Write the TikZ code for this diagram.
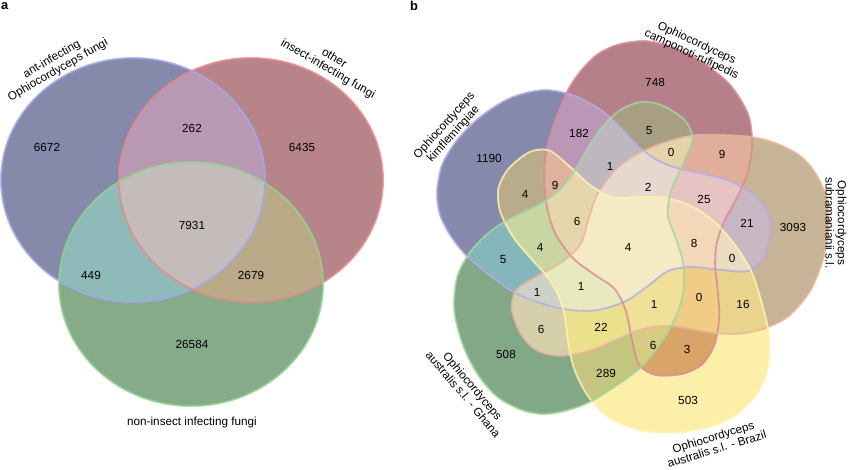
\documentclass[tikz,border=0pt]{standalone}
\usepackage{fontspec}
\setmainfont{Liberation Sans}
\usepackage{tikz}
% panel a colours
\definecolor{vA}{HTML}{8589AA}
\definecolor{vO}{HTML}{B78589}
\definecolor{vN}{HTML}{87AA88}
\definecolor{vAO}{HTML}{B898B2}
\definecolor{vAN}{HTML}{8EBAB9}
\definecolor{vON}{HTML}{BBAA88}
\definecolor{vAON}{HTML}{C4BCBA}
\definecolor{eA}{HTML}{A3A8EE}
\definecolor{eO}{HTML}{E8898C}
\definecolor{eN}{HTML}{8FD48F}
% panel b colours
\definecolor{vK}{HTML}{8589AB}
\definecolor{vC}{HTML}{B5808A}
\definecolor{vS}{HTML}{C7B497}
\definecolor{vB}{HTML}{FCF0A8}
\definecolor{vG}{HTML}{82A887}
\definecolor{vKC}{HTML}{BC96B6}
\definecolor{vCS}{HTML}{E0AE9A}
\definecolor{vSB}{HTML}{E8D48C}
\definecolor{vBG}{HTML}{C4C57F}
\definecolor{vGK}{HTML}{84B6BB}
\definecolor{vCG}{HTML}{A89E83}
\definecolor{vSK}{HTML}{C8B7C3}
\definecolor{vBC}{HTML}{D9A468}
\definecolor{vGS}{HTML}{D5CFAA}
\definecolor{vKB}{HTML}{B8AC8A}
\definecolor{vKCB}{HTML}{DDB39E}
\definecolor{vCSG}{HTML}{E6D3A9}
\definecolor{vSBK}{HTML}{EBDCC0}
\definecolor{vBGC}{HTML}{D8CB82}
\definecolor{vGKS}{HTML}{CCD2C6}
\definecolor{vKCG}{HTML}{BEB8BE}
\definecolor{vCSK}{HTML}{E8C3C3}
\definecolor{vSBC}{HTML}{F0CC86}
\definecolor{vBGS}{HTML}{EBE08C}
\definecolor{vGKB}{HTML}{C9D6A2}
\definecolor{vnoB}{HTML}{E6D8CF}
\definecolor{vnoG}{HTML}{F2D8B8}
\definecolor{vnoK}{HTML}{F0E098}
\definecolor{vnoC}{HTML}{E9E9BF}
\definecolor{vnoS}{HTML}{E6D6AC}
\definecolor{vall}{HTML}{F4EAC4}
\definecolor{eK}{HTML}{B3ADE6}
\definecolor{eC}{HTML}{D98A94}
\definecolor{eS}{HTML}{EBB49B}
\definecolor{eB}{HTML}{FFF3B0}
\definecolor{eG}{HTML}{9FD89F}

\newcommand\circpath{(0,0) ellipse [x radius=132, y radius=122]}
\newcommand\blob{plot[smooth cycle, tension=0.5] coordinates {(470,259) (452,238)
  (440,215) (437,192) (442,165) (457,140) (480,117) (510,98) (543,90) (572,95)
  (598,108) (619,126) (638,146) (657,160) (677,168) (700,173) (727,180) (752,193)
  (767,211) (770,233) (763,258) (748,271) (722,270) (692,267) (668,271) (648,286)
  (626,301) (598,310) (570,310) (540,303) (510,290)}}
\newcommand\clipone[2]{\clip[set #1] #2;}
\makeatletter
% fill the part common to all sets in #2
\newcommand\vennregion[3]{%
  \begin{scope}
    \@for\vset:=#2\do{\expandafter\clipone\expandafter{\vset}{#1}}
    \fill[#3] (0,0) rectangle (850,469);
  \end{scope}}
\makeatother

\begin{document}
\begin{tikzpicture}[x=0.03cm, y=-0.03cm, font=\fontsize{10}{10.5}\selectfont,
    set A/.style={shift={(133,180)}},
    set O/.style={shift={(251,180)}},
    set N/.style={shift={(191,284)}},
    set K/.style={},
    set C/.style={rotate around={-72:(629,243)}},
    set S/.style={rotate around={-144:(629,243)}},
    set B/.style={rotate around={144:(629,243)}},
    set G/.style={rotate around={72:(629,243)}},
    rim/.style={line width=1.6pt, draw opacity=0.8},
    panel/.style={anchor=north west, inner sep=0, font=\fontsize{11}{12}\selectfont\bfseries}]
  \useasboundingbox (0,0) rectangle (850,469);

  % a
  \vennregion{\circpath}{A}{vA}
  \vennregion{\circpath}{O}{vO}
  \vennregion{\circpath}{N}{vN}
  \vennregion{\circpath}{A,O}{vAO}
  \vennregion{\circpath}{A,N}{vAN}
  \vennregion{\circpath}{O,N}{vON}
  \vennregion{\circpath}{A,O,N}{vAON}
  \draw[set A, rim, eA] \circpath;
  \draw[set O, rim, eO] \circpath;
  \draw[set N, rim, eN] \circpath;

  \node[panel] (lbla) at (1,2) {a};
  \node[rotate=30, align=center] (antlbl) at (55,65) {ant-infecting\\Ophiocordyceps fungi};
  \node[rotate=-30, align=center] (othlbl) at (331,64) {other\\insect-infecting fungi};
  \node (nonlbl) at (192,422) {non-insect infecting fungi};
  \foreach \p/\t [count=\i] in {(47,147)/6672, (192,128)/262, (302,147)/6435,
      (192,225)/7931, (91,275)/449, (251,275)/2679, (192,344)/26584}
    \node (a\i) at \p {\t};

  % b
  \vennregion{\blob}{K}{vK}
  \vennregion{\blob}{C}{vC}
  \vennregion{\blob}{S}{vS}
  \vennregion{\blob}{B}{vB}
  \vennregion{\blob}{G}{vG}
  \vennregion{\blob}{K,C}{vKC}
  \vennregion{\blob}{C,S}{vCS}
  \vennregion{\blob}{S,B}{vSB}
  \vennregion{\blob}{B,G}{vBG}
  \vennregion{\blob}{G,K}{vGK}
  \vennregion{\blob}{C,G}{vCG}
  \vennregion{\blob}{S,K}{vSK}
  \vennregion{\blob}{B,C}{vBC}
  \vennregion{\blob}{G,S}{vGS}
  \vennregion{\blob}{K,B}{vKB}
  \vennregion{\blob}{K,C,B}{vKCB}
  \vennregion{\blob}{C,S,G}{vCSG}
  \vennregion{\blob}{S,B,K}{vSBK}
  \vennregion{\blob}{B,G,C}{vBGC}
  \vennregion{\blob}{G,K,S}{vGKS}
  \vennregion{\blob}{K,C,G}{vKCG}
  \vennregion{\blob}{C,S,K}{vCSK}
  \vennregion{\blob}{S,B,C}{vSBC}
  \vennregion{\blob}{B,G,S}{vBGS}
  \vennregion{\blob}{G,K,B}{vGKB}
  \vennregion{\blob}{K,C,S,G}{vnoB}
  \vennregion{\blob}{K,C,S,B}{vnoG}
  \vennregion{\blob}{C,S,B,G}{vnoK}
  \vennregion{\blob}{K,S,B,G}{vnoC}
  \vennregion{\blob}{K,C,B,G}{vnoS}
  \vennregion{\blob}{K,C,S,B,G}{vall}
  \draw[set K, rim, eK] \blob;
  \draw[set C, rim, eC] \blob;
  \draw[set S, rim, eS] \blob;
  \draw[set B, rim, eB] \blob;
  \draw[set G, rim, eG] \blob;

  \node[panel] (lblb) at (410,1) {b};
  \node[rotate=48, align=center] (kimlbl) at (449,130) {Ophiocordyceps\\kimflemingiae};
  \node[rotate=-25, align=center] (camlbl) at (694,49) {Ophiocordyceps\\camponoti-rufipedis};
  \node[rotate=-90, align=center] (sublbl) at (836,223) {Ophiocordyceps\\subramanianii s.l.};
  \node[rotate=17, align=center] (bralbl) at (715,443) {Ophiocordyceps\\australis s.l. - Brazil};
  \node[rotate=-50, align=center] (ghalbl) at (468,390) {Ophiocordyceps\\australis s.l. - Ghana};
  \foreach \p/\t [count=\i] in {(655,82)/748, (579,133)/182, (649,131)/5,
      (671,152)/0, (722,154)/9, (489,158)/1190, (610,166)/1, (648,187)/2,
      (704,199)/25, (525,194)/4, (555,185)/9, (577,221)/6, (747,223)/21,
      (793,227)/3093, (540,247)/4, (628,247)/4, (694,243)/8, (732,258)/0,
      (503,260)/5, (537,292)/1, (581,286)/1, (654,304)/1, (699,297)/0,
      (743,304)/16, (541,329)/6, (601,327)/22, (653,345)/6, (687,349)/3,
      (506,354)/508, (606,373)/289, (688,400)/503}
    \node (b\i) at \p {\t};
\end{tikzpicture}
\end{document}
